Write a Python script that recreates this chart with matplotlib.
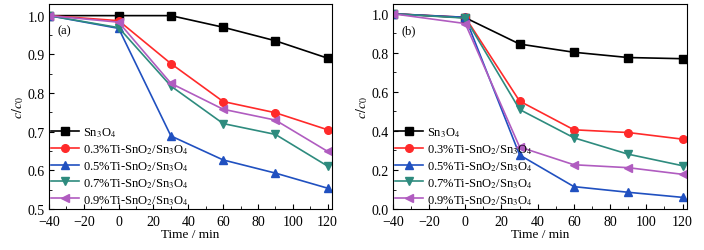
import matplotlib
matplotlib.use('Agg')
import matplotlib.pyplot as plt
from matplotlib.ticker import MultipleLocator

plt.rcParams['font.family'] = ['Liberation Serif', 'DejaVu Serif']
plt.rcParams['mathtext.fontset'] = 'stix'
plt.rcParams['xtick.direction'] = 'in'
plt.rcParams['ytick.direction'] = 'in'

time = [-40, 0, 30, 60, 90, 120]
labels = ['Sn$_3$O$_4$', '0.3%Ti-SnO$_2$/Sn$_3$O$_4$', '0.5%Ti-SnO$_2$/Sn$_3$O$_4$',
          '0.7%Ti-SnO$_2$/Sn$_3$O$_4$', '0.9%Ti-SnO$_2$/Sn$_3$O$_4$']

# panel (a)
a_sn3o4 = [1.0, 1.0, 1.0, 0.970, 0.935, 0.890]
a_03 = [1.0, 0.987, 0.876, 0.778, 0.749, 0.705]
a_05 = [1.0, 0.967, 0.689, 0.627, 0.593, 0.554]
a_07 = [1.0, 0.969, 0.818, 0.721, 0.693, 0.611]
a_09 = [1.0, 0.983, 0.825, 0.758, 0.730, 0.649]

# panel (b)
b_sn3o4 = [1.0, 0.980, 0.845, 0.803, 0.776, 0.770]
b_03 = [1.0, 0.982, 0.553, 0.406, 0.392, 0.358]
b_05 = [1.0, 0.982, 0.277, 0.115, 0.086, 0.060]
b_07 = [1.0, 0.978, 0.510, 0.365, 0.281, 0.222]
b_09 = [1.0, 0.950, 0.318, 0.227, 0.212, 0.178]

colors = ['#000000', '#ff2a2a', '#2050c0', '#2e8b7e', '#b05cc0']
markers = ['s', 'o', '^', 'v', '<']

fig = plt.figure(figsize=(7.04, 2.51), dpi=100)
ax1 = fig.add_axes([0.0696, 0.163, 0.402, 0.817])
ax2 = fig.add_axes([0.558, 0.163, 0.418, 0.817])


def draw_panel(ax, series, tag, ylim, ymajor, yminor):
    for y, c, m, lab in zip(series, colors, markers, labels):
        ax.plot(time, y, color=c, marker=m, markersize=5.5, linewidth=1.2, label=lab)
    ax.set_xlim(-40, 122.5)
    ax.set_ylim(*ylim)
    ax.xaxis.set_major_locator(MultipleLocator(20))
    ax.xaxis.set_minor_locator(MultipleLocator(10))
    ax.yaxis.set_major_locator(MultipleLocator(ymajor))
    ax.yaxis.set_minor_locator(MultipleLocator(yminor))
    ax.tick_params(which='both', top=False, right=False, labelsize=10)
    ax.tick_params(axis='x', pad=4)
    ax.tick_params(axis='y', pad=3)
    ax.tick_params(which='major', length=3.5)
    ax.tick_params(which='minor', length=2)
    ax.set_xlabel('Time / min', fontsize=9.5, labelpad=0)
    ax.set_ylabel('$c/c_0$', fontsize=10, labelpad=1)
    ax.text(0.03, 0.855, tag, transform=ax.transAxes, fontsize=9)
    ax.legend(loc='lower left', frameon=False, fontsize=9, handlelength=2.2,
              handletextpad=0.3, labelspacing=0.25, borderaxespad=0.1,
              borderpad=0.1)


draw_panel(ax1, [a_sn3o4, a_03, a_05, a_07, a_09], '(a)', (0.5, 1.03), 0.1, 0.05)
draw_panel(ax2, [b_sn3o4, b_03, b_05, b_07, b_09], '(b)', (0.0, 1.05), 0.2, 0.1)

fig.savefig('out.png', dpi=100)
